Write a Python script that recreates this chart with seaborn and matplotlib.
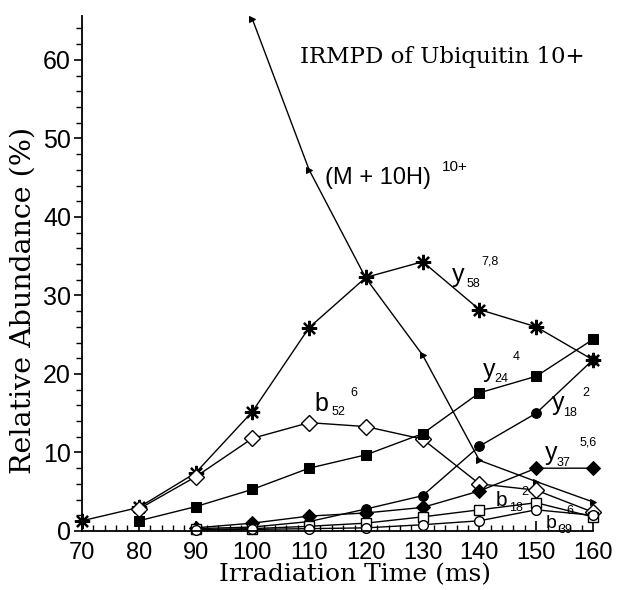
import numpy as np
import pandas as pd
import matplotlib
matplotlib.use("Agg")
import matplotlib.pyplot as plt
import seaborn as sns
from matplotlib.ticker import MultipleLocator

# =========================================
# DATA
# =========================================
time_m = [100, 110, 120, 130, 140, 150, 160]
m10h = [65.2, 46.0, 32.2, 22.4, 9.0, 6.3, 3.7]

time_y58 = [70, 80, 90, 100, 110, 120, 130, 140, 150, 160]
y58 = [1.3, 3.0, 7.4, 15.2, 25.9, 32.3, 34.3, 28.2, 26.0, 21.8]

time_b52 = [80, 90, 100, 110, 120, 130, 140, 150, 160]
b52 = [2.8, 6.9, 11.8, 13.8, 13.3, 11.7, 6.0, 5.2, 2.4]

time_y24 = [80, 90, 100, 110, 120, 130, 140, 150, 160]
y24 = [1.3, 3.1, 5.3, 8.0, 9.7, 12.4, 17.6, 19.7, 24.4]

time_small = [90, 100, 110, 120, 130, 140, 150, 160]
y18 = [0.3, 0.5, 1.2, 2.8, 4.5, 10.8, 15.0, 21.8]
y37 = [0.4, 1.0, 1.9, 2.3, 3.0, 5.1, 8.0, 8.0]
b18 = [0.2, 0.3, 0.6, 1.0, 1.8, 2.7, 3.6, 1.8]
b39 = [0.1, 0.2, 0.3, 0.4, 0.8, 1.3, 2.7, 2.0]

x_ticks = [70, 80, 90, 100, 110, 120, 130, 140, 150, 160]
y_ticks = [0, 10, 20, 30, 40, 50, 60]

# =========================================
# FIGURE
# =========================================
sns.set_style("ticks")
plt.rcParams["font.family"] = ["Liberation Sans", "DejaVu Sans"]
plt.rcParams["text.color"] = "black"
plt.rcParams["axes.labelcolor"] = "black"
plt.rcParams["xtick.color"] = "black"
plt.rcParams["ytick.color"] = "black"

fig = plt.figure(figsize=(6.17, 5.90), dpi=100)
ax = fig.add_axes([0.133, 0.100, 0.828, 0.873])

series = [
    (time_m, m10h, dict(marker=">", markersize=5, mfc="black")),
    (time_y58, y58, dict(marker=(8, 2, 0), markersize=11, mew=1.6, mfc="black")),
    (time_b52, b52, dict(marker="D", markersize=8, mfc="white", mew=1.0)),
    (time_y24, y24, dict(marker="s", markersize=7, mfc="black")),
    (time_small, y18, dict(marker="o", markersize=7, mfc="black")),
    (time_small, y37, dict(marker="D", markersize=7, mfc="black")),
    (time_small, b18, dict(marker="s", markersize=7, mfc="white", mew=1.0)),
    (time_small, b39, dict(marker="o", markersize=7, mfc="white", mew=1.0)),
]
for xs, ys, kw in series:
    sns.lineplot(x=xs, y=ys, ax=ax, color="black", lw=1.0, mec="black",
                 clip_on=False, **kw)

ax.set_xlim(70, 160)
ax.set_ylim(0, 65.6)
ax.set_xticks(x_ticks)
ax.set_yticks(y_ticks)
ax.xaxis.set_minor_locator(MultipleLocator(2))
ax.yaxis.set_minor_locator(MultipleLocator(2))
ax.tick_params(axis="x", which="both", direction="in", labelsize=17, pad=8)
ax.tick_params(axis="x", which="major", length=7, width=1.2)
ax.tick_params(axis="x", which="minor", length=4, width=1.0)
ax.tick_params(axis="y", which="both", direction="out", labelsize=18, pad=2)
ax.tick_params(axis="y", which="major", length=6, width=1.2)
ax.tick_params(axis="y", which="minor", length=4, width=1.0)
sns.despine(ax=ax)
for s in ["left", "bottom"]:
    ax.spines[s].set_linewidth(1.3)
    ax.spines[s].set_color("black")

serif = ["DejaVu Serif"]
ax.set_xlabel("Irradiation Time (ms)", family=serif, fontsize=18)
ax.set_ylabel("Relative Abundance (%)", family=serif, fontsize=20.5)
ax.xaxis.set_label_coords(0.534, -0.062)
ax.yaxis.set_label_coords(-0.088, 0.447)

ax.text(108.4, 60.4, "IRMPD of Ubiquitin 10+", family=serif, fontsize=16.5,
        ha="left", va="center")

# ion labels: main letter, subscript, superscript
ax.text(112.8, 45.0, "(M + 10H)", fontsize=17, ha="left", va="center")
ax.text(133.4, 46.3, "10+", fontsize=11, ha="left", va="center")

labels = [
    ("y", "58", "7,8", 18, (135.1, 32.6), (137.8, 31.4), (140.4, 34.3)),
    ("b", "52", "6", 18, (111.0, 16.2), (114.0, 15.2), (117.2, 17.6)),
    ("y", "24", "4", 18, (140.6, 20.5), (142.7, 19.4), (145.9, 22.2)),
    ("y", "18", "2", 18, (152.7, 16.3), (154.7, 15.0), (158.2, 17.6)),
    ("y", "37", "5,6", 18, (151.5, 9.9), (153.6, 8.7), (157.7, 11.3)),
    ("b", "18", "2", 15, (142.9, 3.9), (145.3, 2.9), (147.3, 5.0)),
    ("b", "39", "6", 14, (151.6, 1.0), (154.0, 0.1), (155.4, 2.5)),
]
for main, sub, sup, size, p_main, p_sub, p_sup in labels:
    ax.text(*p_main, main, fontsize=size, ha="left", va="center")
    ax.text(*p_sub, sub, fontsize=9, ha="left", va="center")
    ax.text(*p_sup, sup, fontsize=9, ha="left", va="center")

fig.savefig("out.png", dpi=100)
